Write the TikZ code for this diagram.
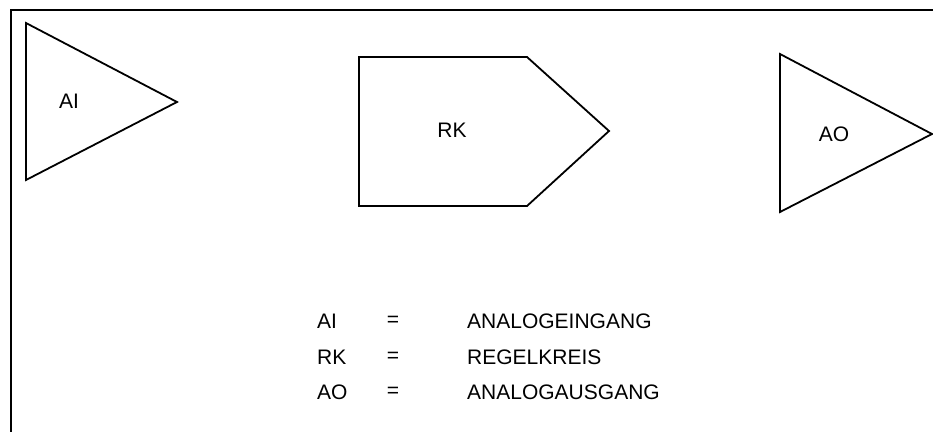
\documentclass[tikz,border=0pt]{standalone}
\usepackage{fontspec}
\setmainfont{Liberation Sans}
\begin{document}
\begin{tikzpicture}[x=1pt, y=-1pt, line join=miter,
  symbol/.style={draw=black, line width=1.8pt},
  txt/.style={inner sep=0pt, font=\fontsize{21}{25}\selectfont}]
  \useasboundingbox (0,0) rectangle (933,431);
  % Rahmen (nur oben und links sichtbar)
  \draw[line width=2pt] (940,10) -- (11,10) -- (11,440);

  % AI: Dreieck
  \draw[symbol] (26,23) -- (177,102) -- (26,180) -- cycle;
  \node[txt] (ai) at (69,101) {AI};

  % RK: Fuenfeck
  \draw[symbol] (359,57) -- (527,57) -- (609,131) -- (527,206) -- (359,206) -- cycle;
  \node[txt] (rk) at (452,130) {RK};

  % AO: Dreieck
  \draw[symbol] (780,54) -- (932,134) -- (780,212) -- cycle;
  \node[txt] (ao) at (834,134) {AO};

  % Legende
  \node[txt, anchor=west] (kAI) at (317,321) {AI};
  \node[txt] (eqAI) at (393,321) {=};
  \node[txt, anchor=west] (tAI) at (467,321) {ANALOGEINGANG};
  \node[txt, anchor=west] (kRK) at (317,357) {RK};
  \node[txt] (eqRK) at (393,357) {=};
  \node[txt, anchor=west] (tRK) at (467,357) {REGELKREIS};
  \node[txt, anchor=west] (kAO) at (317,392) {AO};
  \node[txt] (eqAO) at (393,392) {=};
  \node[txt, anchor=west] (tAO) at (467,392) {ANALOGAUSGANG};
\end{tikzpicture}
\end{document}
